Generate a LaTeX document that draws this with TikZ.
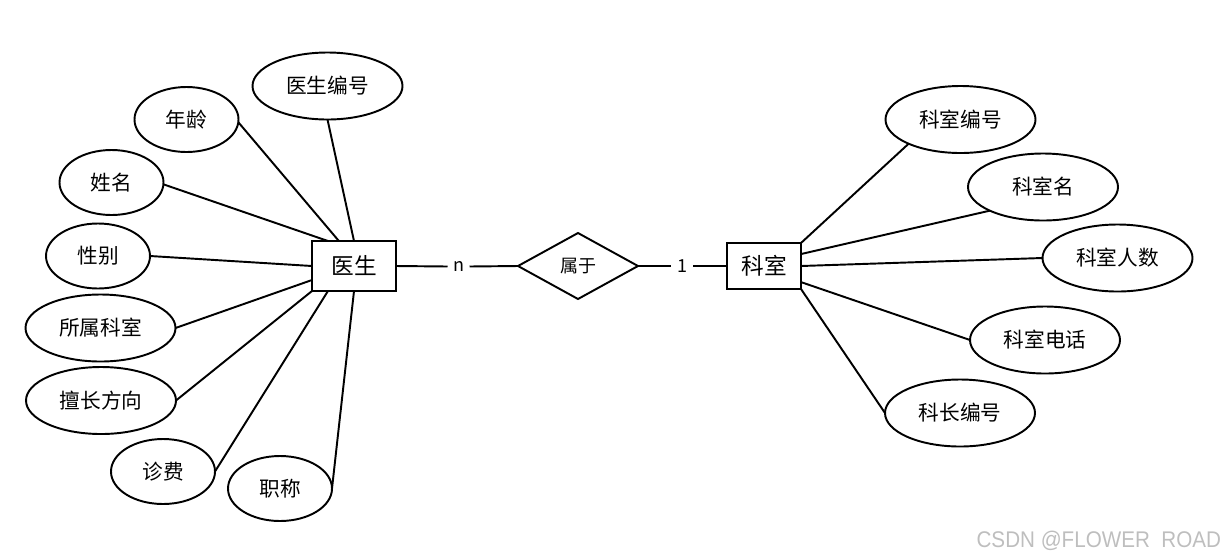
\documentclass[tikz,border=0pt]{standalone}
\usepackage{fontspec}
\setmainfont{Noto Sans CJK SC}
\newfontfamily\wmfont{Liberation Sans}
\usetikzlibrary{shapes.geometric,calc}
\definecolor{wmgray}{RGB}{190,190,190}
\begin{document}
\begin{tikzpicture}[x=0.75pt,y=-0.75pt,
  every node/.style={inner sep=0pt, outer sep=0pt},
  conn/.style={draw=black, line width=1.45pt},
  entity/.style={draw=black, line width=1.45pt, rectangle, font=\fontsize{17}{20}\selectfont},
  bigattr/.style={draw=black, line width=1.45pt, ellipse, minimum width=112.5pt, minimum height=50.25pt, font=\fontsize{15.5}{18}\selectfont},
  smallattr/.style={draw=black, line width=1.45pt, ellipse, minimum width=78pt, minimum height=48.75pt, font=\fontsize{15.5}{18}\selectfont},
  relation/.style={draw=black, line width=1.45pt, diamond, minimum width=90pt, minimum height=49.5pt, font=\fontsize{13.5}{16}\selectfont},
  card/.style={minimum width=16.5pt, minimum height=12pt, font=\fontsize{13.5}{16}\selectfont}
]
\useasboundingbox (0,0) rectangle (1227,558);

% entities and relationship
\node[entity, minimum width=63pt, minimum height=37.5pt] (doc) at (354,266) {医生};
\node[entity, minimum width=55.5pt, minimum height=34.5pt] (dept) at (764,266) {科室};
\node[relation] (rel) at (578,266) {属于};
\node[card] (cn) at (458.5,266.5) {n};
\node[card] (c1) at (682,266) {1};

% doctor attributes
\node[bigattr] (d1) at (327.5,86) {医生编号};
\node[smallattr] (d2) at (186.5,119.5) {年龄};
\node[smallattr] (d3) at (111.5,182.5) {姓名};
\node[smallattr] (d4) at (98,256) {性别};
\node[bigattr] (d5) at (100.5,328) {所属科室};
\node[bigattr] (d6) at (101,400.5) {擅长方向};
\node[smallattr] (d7) at (163,471.5) {诊费};
\node[smallattr] (d8) at (280,488.5) {职称};

% department attributes
\node[bigattr] (k1) at (960.5,119.5) {科室编号};
\node[bigattr] (k2) at (1043,187) {科室名};
\node[bigattr] (k3) at (1117.5,258) {科室人数};
\node[bigattr] (k4) at (1045,340) {科室电话};
\node[bigattr] (k5) at (960,413) {科长编号};

% relationship connectors
\draw[conn] (doc.east) -- (cn.west);
\draw[conn] (cn.east) -- (rel.west);
\draw[conn] (rel.east) -- (c1.west);
\draw[conn] (c1.east) -- (dept.west);

% doctor attribute connectors
\draw[conn] (d1.south) -- (doc.north);
\draw[conn] (d2.-3) -- ($(doc.north west)!0.32!(doc.north east)$);
\draw[conn] (d3.-2) -- ($(doc.north west)!0.19!(doc.north east)$);
\draw[conn] (d4.east) -- (doc.west);
\draw[conn] (d5.east) -- ($(doc.north west)!0.78!(doc.south west)$);
\draw[conn] (d6.east) -- (doc.south west);
\draw[conn] (d7.east) -- ($(doc.south west)!0.19!(doc.south east)$);
\draw[conn] (d8.east) -- (doc.south);

% department attribute connectors
\draw[conn] (k1.205.5) -- (dept.north east);
\draw[conn] (k2.204.4) -- ($(dept.north east)!0.24!(dept.south east)$);
\draw[conn] (k3.west) -- (dept.east);
\draw[conn] (k4.west) -- ($(dept.north east)!0.85!(dept.south east)$);
\draw[conn] (k5.west) -- (dept.south east);

% watermark
\node[anchor=base east, text=wmgray, font=\wmfont\fontsize{17}{19}\selectfont] (wm) at (1221,547) {\scalebox{0.91}[1]{CSDN @FLOWER\ \ ROAD}};
\end{tikzpicture}
\end{document}
